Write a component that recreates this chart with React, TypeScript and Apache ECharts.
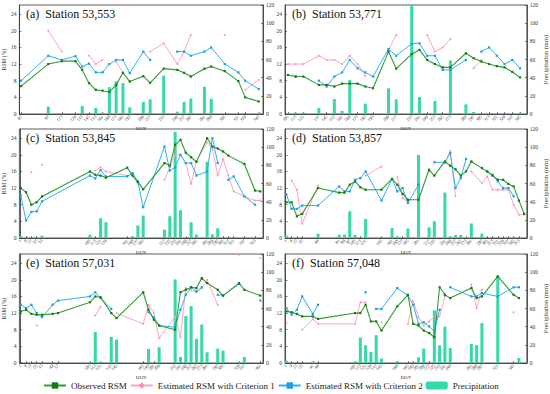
import React, { useEffect, useRef } from 'react';
import * as echarts from 'echarts';

// ---------- Panel (a) Station 53,553 ----------
const doyA = [65, 97, 113, 129, 137, 145, 153, 161, 169, 177, 185, 193, 209, 217, 233, 249, 257, 265, 281, 289, 305, 321, 329, 345];
const obsA = [6.7, 12.0, 12.7, 12.7, 10.6, 7.4, 5.8, 5.6, 5.3, 7.0, 9.9, 7.8, 9.1, 7.5, 10.9, 10.6, 9.9, 9.0, 10.9, 11.4, 10.3, 7.9, 4.0, 3.0];
const c1A = [null, 20.0, 15.0, null, null, 14.0, 12.0, 13.0, null, 12.5, 10.0, null, null, 15.0, 17.0, 12.0, 15.0, 19.0, null, null, 19.0, null, 5.8, 8.2];
const c2A = [8.0, 14.0, 13.0, 13.9, 11.4, 12.1, 10.0, 10.0, 12.0, 13.0, 13.0, 9.8, 15.0, 13.0, null, 15.0, 15.0, 14.0, 15.0, 16.0, 12.0, 10.0, 8.0, 6.0];
const preA = [0, 8.1, 0, 0, 8.9, 0, 6.7, 1.5, 29.6, 36.0, 34.0, 7.4, 13.3, 16.3, 42.2, 2.6, 13.3, 17.0, 30.0, 16.7, 0, 0, 0, 1.5];

// ---------- Panel (b) Station 53,771 ----------
const doyB = [105, 113, 121, 137, 145, 153, 161, 169, 177, 185, 193, 209, 217, 233, 241, 249, 257, 265, 273, 289, 297, 305, 313, 321, 329, 337, 345];
const obsB = [9.4, 9.0, 9.0, 7.0, 7.0, 6.6, 7.3, 7.3, 7.3, 6.6, 6.2, 15.0, 10.9, 14.4, 15.4, 13.0, 12.0, 11.2, 11.2, 14.6, 13.4, 12.6, 12.0, 11.5, 11.2, 10.1, 8.8];
const c1B = [12.0, 12.0, 12.0, 14.0, 13.0, 13.0, 12.0, 14.0, 12.0, 9.2, null, 15.4, 19.0, null, null, 19.0, 15.0, 16.0, 18.0, null, 11.0, 13.0, null, null, null, null, null];
const c2B = [null, 9.0, null, 8.0, 6.6, 9.0, 10.0, 13.0, 11.0, 10.0, 9.0, 15.6, 14.0, 16.9, 17.0, 14.0, 14.0, 10.6, 10.6, 13.0, null, 15.0, 16.0, 14.0, 12.0, 13.0, 11.0];
const preB = [0, 1.5, 1.5, 6.6, 0, 16.5, 3.3, 37.4, 0, 11.4, 0, 28.2, 16.1, 125, 18.7, 0, 14.3, 0, 59, 10.6, 2.2, 0, 0, 0, 0, 0, 1.5];

// ---------- Panel (c) Station 53,845 ----------
const doyC = [1, 9, 17, 25, 33, 105, 113, 121, 129, 161, 169, 177, 185, 217, 225, 233, 241, 249, 257, 265, 281, 289, 297, 305, 313, 321, 337, 353, 361];
const obsC = [12.0, 11.0, 8.0, 8.6, 10.0, 16.0, 15.2, 15.0, 14.5, 16.9, 15.0, 13.5, 11.7, 18.0, 17.4, 22.4, 23.6, 20.5, 19.4, 18.3, 24.0, 22.0, 21.5, 20.8, 19.8, null, 17.8, 11.4, 11.2];
const c1C = [null, null, 15.8, null, 17.6, null, 16.2, 17.0, 16.0, 15.0, 15.2, 13.0, null, 14.0, 17.0, 20.0, 20.0, 18.0, 13.0, 18.5, 23.0, 21.5, 15.0, 19.0, 15.0, 11.2, 10.0, 9.0, 9.0];
const c2C = [10.2, 4.2, 6.3, 6.4, 8.8, 15.0, 14.3, 16.3, 14.8, 14.8, 15.6, 13.6, 7.4, 22.0, 16.2, 17.0, 20.0, 18.0, 18.0, 15.0, 16.0, 24.0, 18.0, null, 14.0, 14.8, 10.0, 8.0, null];
const preC = [2.2, 0, 0, 0, 2.6, 3.7, 0, 21.8, 17.3, 0, 1.8, 13.7, 24.7, 9.2, 24.0, 117, 30.6, 0, 17.3, 3.7, 83.8, 4.0, 10.7, 0, 0, 0, 0, 0, 0];

// ---------- Panel (d) Station 53,857 ----------
const doyD = [1, 9, 17, 25, 49, 81, 89, 97, 105, 113, 121, 145, 161, 169, 177, 185, 201, 217, 225, 241, 249, 257, 265, 273, 281, 297, 305, 313, 321, 329, 337, 345, 353, 361];
const obsD = [8.6, 8.6, 5.2, 5.8, 12.0, 10.9, 10.9, 12.8, 13.6, 12.2, 11.6, 11.6, 14.2, 12.8, 10.6, 9.2, 9.2, 16.4, 15.0, 18.4, 17.4, 16.5, 15.0, 16.0, 18.4, 16.8, 16.0, 15.0, 14.0, 14.0, 13.0, 12.4, 9.0, 5.8];
const c1D = [null, 13.8, 11.6, 3.4, 12.6, null, null, null, null, null, 15.0, 17.2, null, 14.6, 9.6, 8.8, null, 16.0, null, 18.0, 21.0, 10.0, null, null, 16.0, 13.2, 14.8, 11.6, 11.6, 11.6, 11.6, 8.0, 5.6, 5.6];
const c2D = [10.5, 7.0, 7.0, 7.8, 7.8, 12.4, 11.2, 11.2, 14.0, 14.4, 16.0, 9.0, 14.2, 11.2, 12.0, 8.4, 12.8, null, 18.2, 18.2, 20.4, 12.0, 14.4, 19.0, null, null, 16.0, 15.2, 13.6, 12.0, 12.0, 10.0, null, null];
const preD = [2.6, 0, 0, 0, 4.8, 3.7, 3.7, 29.5, 3.3, 0, 21.0, 0.7, 11.0, 1.8, 0, 10.3, 91.5, 11.8, 18.5, 50.0, 1.8, 3.3, 3.3, 1.0, 16.0, 4.8, 0, 0, 0, 0, 0, 1.0, 0, 0];

// ---------- Panel (e) Station 57,031 ----------
const doyE = [1, 9, 17, 25, 33, 49, 57, 105, 113, 121, 137, 145, 185, 193, 201, 209, 233, 241, 249, 257, 265, 273, 281, 297, 305, 329, 337, 361];
const obsE = [12.4, 12.8, 11.8, 11.6, 11.6, 11.8, 12.0, 14.6, 16.0, 15.8, 12.0, 10.8, 17.0, 12.8, 10.4, 9.0, 8.0, 17.0, 17.6, 18.2, 18.0, 20.4, 19.2, 17.6, 16.2, 19.2, 17.6, 16.2];
const c1E = [null, null, null, 9.0, null, null, null, null, 11.4, 13.5, null, 12.0, 9.4, 14.0, 12.0, 6.0, 11.2, 6.2, 18.0, 17.5, 17.0, 18.0, 20.0, 14.0, null, 26.0, null, 25.2];
const c2E = [14.0, 13.2, 14.0, 12.0, 11.0, 14.0, 15.0, 16.0, 17.0, 15.6, 13.0, null, null, 12.2, 11.0, 9.0, 8.6, 12.8, 16.4, 18.2, 17.2, 18.2, null, 16.4, 16.2, 19.0, null, 15.0];
const preE = [0, 0, 0, 0, 0, 0, 0, 0.7, 34.3, 1.1, 28.8, 25.8, 0, 15.5, 0, 17.3, 92.0, 6.6, 51.7, 62.7, 26.6, 42.4, 11.8, 15.9, 13.7, 1.1, 6.6, 0];

// ---------- Panel (f) Station 57,048 ----------
const doyF = [1, 9, 17, 25, 41, 49, 105, 113, 121, 129, 137, 145, 169, 185, 193, 201, 209, 217, 225, 233, 241, 249, 281, 289, 297, 321, 345, 353];
const obsF = [12.4, 12.2, 11.8, 11.2, 11.2, 10.6, 12.0, 12.0, 14.0, 10.0, 10.0, 7.8, 13.6, 16.4, 9.4, 9.0, 7.8, 7.2, 6.2, 18.2, 16.4, 15.6, 18.0, 15.6, 16.0, 20.8, 16.4, 15.6];
const c1F = [9.6, null, null, 8.0, 10.6, 9.4, 9.4, 14.6, 14.6, null, null, 9.8, null, 9.4, 15.0, 11.0, 9.0, 10.0, 11.2, 11.2, 16.0, null, 18.8, 13.2, 17.6, null, 12.2, null];
const c2F = [13.2, 11.6, 12.8, 16.0, 11.8, 14.0, null, null, 17.0, null, 13.0, 13.0, 18.0, 16.2, 14.0, 9.4, 9.8, 8.8, 7.6, 12.8, null, 18.2, 16.0, 16.0, 16.8, 16.0, 18.2, 18.2];
const preF = [2.6, 0, 0, 0, 1.8, 0, 1.8, 28.0, 19.6, 12.0, 30.6, 4.8, 1.8, 0, 0, 6.3, 16.0, 0, 58.0, 19.6, 40.0, 16.6, 21.0, 19.6, 44.0, 96.0, 0, 5.5];

const titles = [
  '(a)  Station 53,553',
  '(b)  Station 53,771',
  '(c)  Station 53,845',
  '(d)  Station 53,857',
  '(e)  Station 57,031',
  '(f)  Station 57,048',
];
const rsmTicks = [0, 4, 8, 12, 16, 20, 24];
const precipTicks = [0, 20, 40, 60, 80, 100, 120];
const legendNames = ['Observed RSM', 'Estimated RSM with Criterion 1', 'Estimated RSM with Criterion 2', 'Precipitation'];

const SERIF = "'Liberation Serif', 'Times New Roman', serif";
const AXIS_COLOR = '#333';

export default function App() {
  const ref = useRef<HTMLDivElement>(null);
  useEffect(() => {
    document.body.style.margin = '0';
    const chart = echarts.init(ref.current as HTMLDivElement, null, { renderer: 'svg' });
    const panels = [
      { doy: doyA, obs: obsA, c1: c1A, c2: c2A, pre: preA },
      { doy: doyB, obs: obsB, c1: c1B, c2: c2B, pre: preB },
      { doy: doyC, obs: obsC, c1: c1C, c2: c2C, pre: preC },
      { doy: doyD, obs: obsD, c1: c1D, c2: c2D, pre: preD },
      { doy: doyE, obs: obsE, c1: c1E, c2: c2E, pre: preE },
      { doy: doyF, obs: obsF, c1: c1F, c2: c2F, pre: preF },
    ];
    const layout = [
      { left: 19, top: 5, width: 244, height: 109, xmin: 63, xmax: 350 },
      { left: 285, top: 5, width: 247, height: 109, xmin: 102, xmax: 352 },
      { left: 19, top: 129, width: 244, height: 109, xmin: -1, xmax: 365 },
      { left: 285, top: 129, width: 247, height: 109, xmin: -1, xmax: 365 },
      { left: 19, top: 254, width: 244, height: 109, xmin: -1, xmax: 365 },
      { left: 285, top: 254, width: 247, height: 109, xmin: -1, xmax: 365 },
    ];

    const grid: any[] = [];
    const xAxis: any[] = [];
    const yAxis: any[] = [];
    const series: any[] = [];
    const title: any[] = [];

    panels.forEach((p, i) => {
      const L = layout[i];
      const isLeft = i % 2 === 0;
      grid.push({
        left: L.left, top: L.top, width: L.width, height: L.height,
        show: true, borderColor: AXIS_COLOR, borderWidth: 0.8, backgroundColor: 'transparent',
      });
      title.push({
        text: titles[i],
        left: L.left + 7,
        top: L.top + 3,
        padding: 0,
        textStyle: { fontFamily: SERIF, fontSize: 12, fontWeight: 'normal', color: '#111' },
      });
      xAxis.push({
        type: 'value', gridIndex: i, min: L.xmin, max: L.xmax,
        axisLine: { show: true, lineStyle: { color: AXIS_COLOR, width: 0.8 } },
        axisTick: { show: true, inside: true, length: 2, customValues: p.doy, lineStyle: { color: AXIS_COLOR, width: 0.6 } },
        axisLabel: {
          show: true, customValues: p.doy, rotate: 45, fontSize: 4.5, margin: 2,
          fontFamily: SERIF, color: '#333', formatter: (v: number) => String(v),
        },
        splitLine: { show: false },
        name: 'DOY', nameLocation: 'middle', nameGap: 11,
        nameTextStyle: { fontFamily: SERIF, fontSize: 5, color: '#333' },
      });
      yAxis.push({
        type: 'value', gridIndex: i, min: 0, max: 26.2, position: 'left',
        axisLine: { show: true, lineStyle: { color: AXIS_COLOR, width: 0.8 } },
        axisTick: { show: true, inside: true, length: 2, customValues: rsmTicks, lineStyle: { color: AXIS_COLOR, width: 0.6 } },
        axisLabel: { customValues: rsmTicks, fontSize: 5.5, margin: 3, fontFamily: SERIF, color: '#333' },
        splitLine: { show: false },
        name: isLeft ? 'RSM (%)' : '', nameLocation: 'middle', nameGap: 10, nameRotate: 90,
        nameTextStyle: { fontFamily: SERIF, fontSize: 5.5, color: '#333' },
      });
      yAxis.push({
        type: 'value', gridIndex: i, min: 0, max: 120, position: 'right',
        axisLine: { show: true, lineStyle: { color: AXIS_COLOR, width: 0.8 } },
        axisTick: { show: true, inside: true, length: 2, customValues: precipTicks, lineStyle: { color: AXIS_COLOR, width: 0.6 } },
        axisLabel: { customValues: precipTicks, fontSize: 5.5, margin: 3, fontFamily: SERIF, color: '#333' },
        splitLine: { show: false },
        name: isLeft ? '' : 'Precipitation (mm)', nameLocation: 'middle', nameGap: 13, nameRotate: 90,
        nameTextStyle: { fontFamily: SERIF, fontSize: 6.5, color: '#333' },
      });

      series.push({
        name: 'Precipitation', type: 'bar', xAxisIndex: i, yAxisIndex: 2 * i + 1,
        barWidth: 3, z: 1,
        itemStyle: { color: '#33d9a6' },
        data: p.doy.map((d, j) => [d, p.pre[j]]).filter((e) => (e[1] as number) > 0),
      });
      series.push({
        name: 'Estimated RSM with Criterion 1', type: 'line', xAxisIndex: i, yAxisIndex: 2 * i,
        connectNulls: false, symbol: 'diamond', symbolSize: 2.4, z: 3,
        lineStyle: { color: '#ffa3c6', width: 1 }, itemStyle: { color: '#ff8cbc' },
        data: p.doy.map((d, j) => [d, p.c1[j] === null ? '-' : p.c1[j]]),
      });
      series.push({
        name: 'Estimated RSM with Criterion 2', type: 'line', xAxisIndex: i, yAxisIndex: 2 * i,
        connectNulls: false, symbol: 'rect', symbolSize: 2.2, z: 4,
        lineStyle: { color: '#2cb2f0', width: 1 }, itemStyle: { color: '#1a9fe0' },
        data: p.doy.map((d, j) => [d, p.c2[j] === null ? '-' : p.c2[j]]),
      });
      series.push({
        name: 'Observed RSM', type: 'line', xAxisIndex: i, yAxisIndex: 2 * i,
        connectNulls: true, symbol: 'rect', symbolSize: 2.2, z: 5,
        lineStyle: { color: '#2e9e2e', width: 1.1 }, itemStyle: { color: '#177817' },
        data: p.doy.filter((_, j) => p.obs[j] !== null).map((d) => [d, p.obs[p.doy.indexOf(d)]]),
      });
    });

    chart.setOption({
      animation: false,
      backgroundColor: '#fff',
      title,
      grid,
      xAxis,
      yAxis,
      series,
      legend: {
        data: legendNames,
        left: 43, top: 381, padding: 0,
        itemWidth: 22, itemHeight: 8, itemGap: 3,
        textStyle: { fontFamily: SERIF, fontSize: 9, color: '#222' },
      },
    });
    return () => chart.dispose();
  }, []);
  return <div ref={ref} style={{ width: 550, height: 394 }} />;
}
